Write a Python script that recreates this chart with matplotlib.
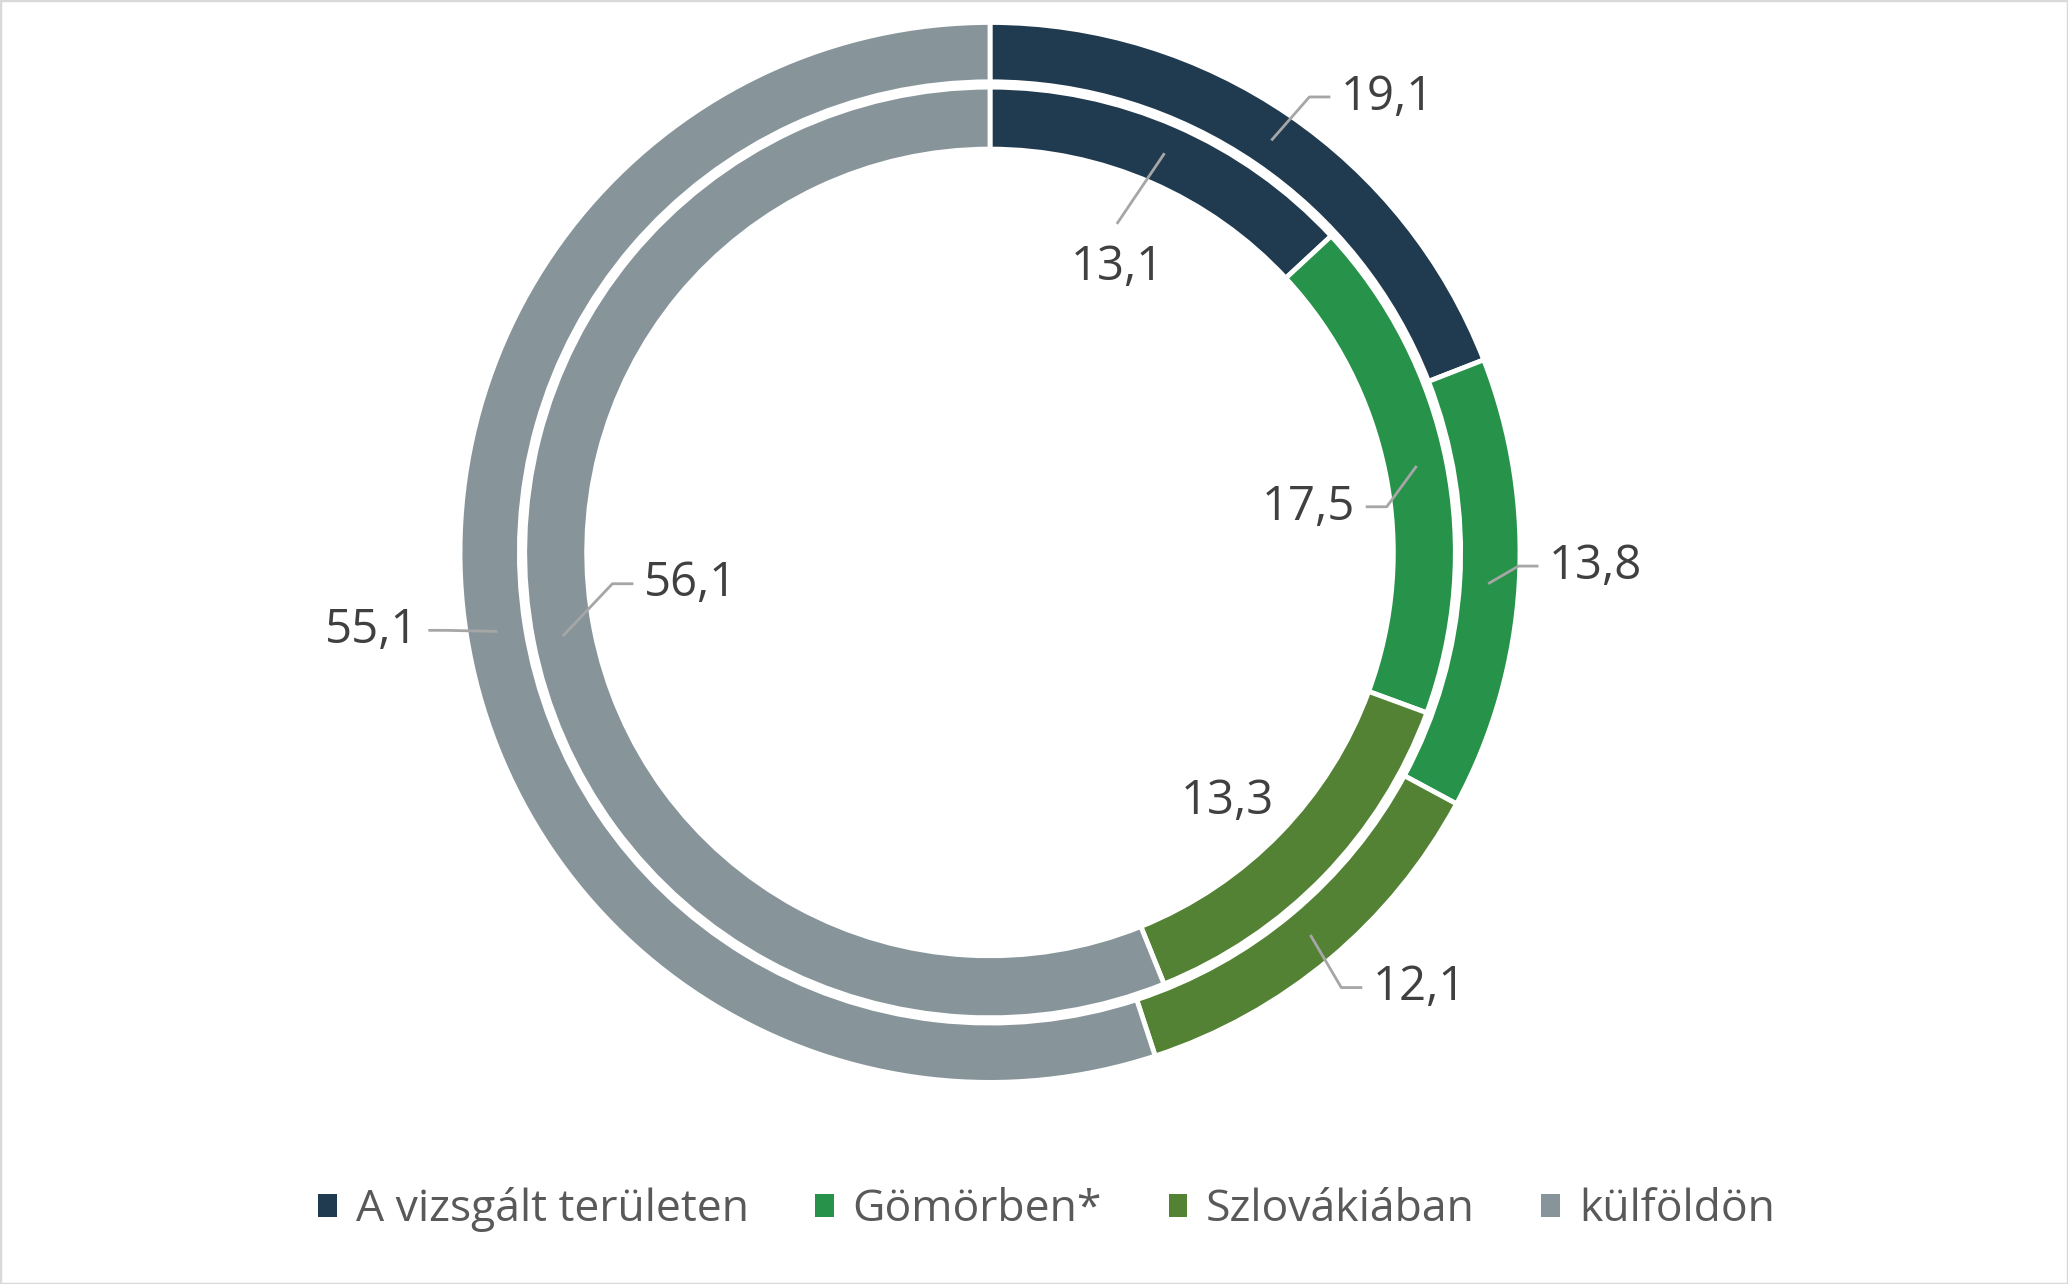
import numpy as np
import matplotlib.pyplot as plt
from matplotlib.patches import Patch, Rectangle

plt.rcParams['font.family'] = ['Open Sans', 'DejaVu Sans']

# adatok
categories = ['A vizsgált területen', 'Gömörben*', 'Szlovákiában', 'külföldön']
outer_vals = [19.1, 13.8, 12.1, 55.1]
inner_vals = [13.1, 17.5, 13.3, 56.1]
colors = ['#203a4f', '#26924a', '#548235', '#87959b']

fig = plt.figure(figsize=(20.68, 12.84), dpi=100)
ax = fig.add_axes([0, 0, 1, 1])
ax.set_aspect('equal')
ax.axis('off')

r_out, w_out = 1.0, 0.112
r_in, w_in = 0.878, 0.117
wp = dict(edgecolor='white', linewidth=3.5)

w1, _ = ax.pie(outer_vals, radius=r_out, colors=colors, startangle=90,
               counterclock=False, wedgeprops=dict(width=w_out, **wp))
w2, _ = ax.pie(inner_vals, radius=r_in, colors=colors, startangle=90,
               counterclock=False, wedgeprops=dict(width=w_in, **wp))
ax.set_xlim(-1.868, 2.034)
ax.set_ylim(-1.380, 1.042)


def fmt(v):
    return ('%.1f' % v).replace('.', ',')


# cimke elhelyezes: (elbow dx, dy, vizszintes szakasz, igazitas)
outer_lay = [(0.070, 0.080, 0.037, 'left'),
             (0.055, 0.032, 0.035, 'left'),
             (0.057, -0.097, 0.037, 'left'),
             (-0.095, 0.002, -0.03, 'right')]
inner_lay = [(-0.087, -0.129, None, 'below'),
             (-0.055, -0.075, -0.037, 'right'),
             (-0.012, -0.025, None, 'inside'),
             (0.092, 0.097, 0.037, 'left')]

lc = '#a6a6a6'
tc = '#404040'
fs = 34


def label(wedges, vals, lay, rmid):
    for w, v, (ex, ey, hx, mode) in zip(wedges, vals, lay):
        ang = np.deg2rad((w.theta1 + w.theta2) / 2)
        x0, y0 = rmid * np.cos(ang), rmid * np.sin(ang)
        if mode == 'inside':
            r = 0.64
            ax.text(r * np.cos(ang) + ex, r * np.sin(ang) + ey, fmt(v),
                    ha='center', va='center', fontsize=fs, color=tc)
            continue
        x1, y1 = x0 + ex, y0 + ey
        if mode == 'below':
            ax.plot([x0, x1], [y0, y1], color=lc, lw=2)
            ax.text(x1, y1 - 0.04, fmt(v), ha='center', va='top',
                    fontsize=fs, color=tc)
            continue
        x2 = x1 + hx
        ax.plot([x0, x1, x2], [y0, y1, y1], color=lc, lw=2)
        gap = 0.022 if hx > 0 else -0.022
        ax.text(x2 + gap, y1, fmt(v), ha=mode, va='center',
                fontsize=fs, color=tc)


label(w1, outer_vals, outer_lay, r_out - w_out / 2)
label(w2, inner_vals, inner_lay, r_in - w_in / 2)

handles = [Patch(facecolor=c, edgecolor='none') for c in colors]
fig.legend(handles, categories, loc='center', bbox_to_anchor=(0.506, 0.058),
           ncol=4, frameon=False, fontsize=32, labelcolor='#595959',
           handlelength=0.42, handleheight=0.42, handletextpad=0.42,
           columnspacing=1.5)

fig.patches.append(Rectangle((0, 0), 1, 1, transform=fig.transFigure,
                             fill=False, edgecolor='#d9d9d9', linewidth=2.5))

fig.savefig('out.png', dpi=100)
